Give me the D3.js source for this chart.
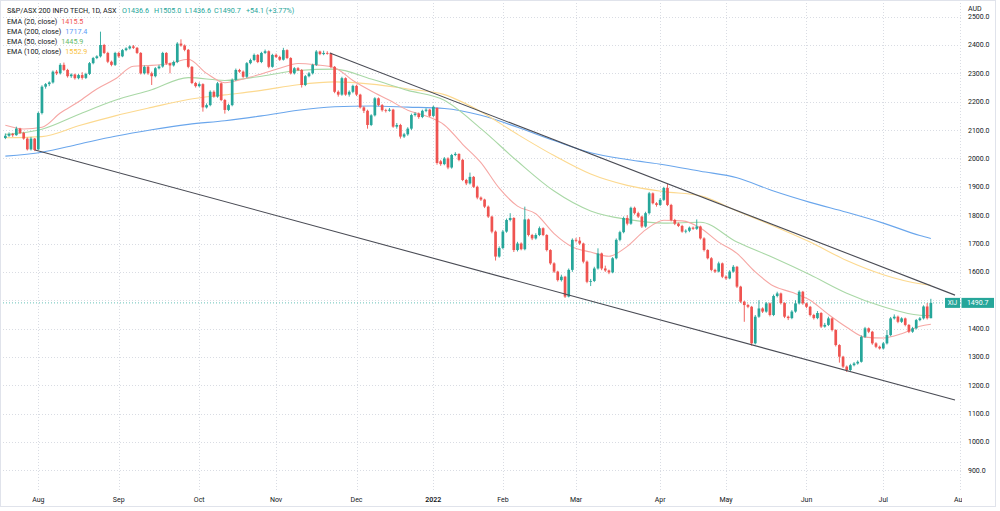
<!DOCTYPE html>
<html>
<head>
<meta charset="utf-8">
<script src="https://cdn.jsdelivr.net/npm/d3@7/dist/d3.min.js"></script>
<style>
html,body{margin:0;padding:0;background:#fff;}
svg{display:block;font-family:Roboto,"Liberation Sans",sans-serif;}
</style>
</head>
<body>
<div id="chart"></div>
<script>
// daily bars, 20 Jul 2021 .. 20 Jul 2022 (bar index = trading day)
const opens = [
2072,2080,2086,2082,2105,2090,2070,2032,2070,2032,
2160,2253,2262,2268,2306,2300,2330,2312,2290,2296,
2283,2294,2284,2298,2336,2354,2360,2400,2372,2341,
2330,2372,2360,2382,2388,2395,2390,2372,2300,2323,
2300,2290,2318,2324,2372,2335,2328,2340,2405,2398,
2383,2323,2266,2255,2262,2180,2188,2235,2218,2265,
2206,2171,2188,2277,2312,2306,2288,2336,2347,2365,
2340,2372,2378,2323,2365,2358,2348,2382,2354,2300,
2318,2312,2259,2290,2300,2330,2377,2368,2372,2370,
2323,2235,2225,2283,2225,2235,2256,2225,2180,2168,
2118,2152,2212,2188,2170,2168,2172,2112,2118,2077,
2085,2105,2153,2158,2146,2168,2172,2150,2178,1990,
1980,2000,1968,2012,2016,1995,1924,1912,1935,1900,
1862,1855,1830,1795,1742,1654,1684,1742,1783,1790,
1677,1700,1680,1785,1730,1718,1730,1754,1730,1677,
1630,1601,1571,1583,1513,1607,1713,1710,1700,1636,
1565,1568,1612,1665,1612,1605,1598,1648,1713,1740,
1790,1770,1826,1807,1795,1760,1807,1877,1842,1836,
1854,1896,1836,1783,1770,1762,1742,1745,1756,1752,
1760,1718,1677,1648,1607,1601,1630,1583,1577,1601,
1618,1548,1495,1483,1477,1348,1442,1471,1460,1489,
1448,1515,1524,1490,1442,1437,1460,1489,1530,1489,
1477,1448,1437,1455,1407,1413,1436,1395,1342,1301,
1266,1254,1271,1277,1283,1371,1401,1389,1348,1336,
1330,1348,1377,1436,1442,1424,1436,1413,1389,1401,
1430,1436,1478,1436.6
];
const highs = [
2088,2092,2090,2112,2108,2094,2074,2076,2072,2165,
2258,2266,2272,2310,2312,2336,2338,2316,2300,2299,
2298,2304,2302,2340,2358,2364,2447,2404,2376,2345,
2376,2376,2386,2392,2399,2400,2393,2375,2328,2326,
2306,2322,2330,2376,2375,2338,2345,2410,2420,2402,
2386,2326,2270,2268,2265,2194,2240,2240,2270,2268,
2210,2193,2282,2317,2316,2310,2340,2352,2370,2368,
2376,2384,2381,2369,2370,2362,2390,2385,2357,2322,
2322,2315,2294,2305,2334,2382,2380,2380,2378,2373,
2326,2240,2288,2286,2240,2260,2260,2228,2184,2172,
2156,2216,2215,2192,2175,2178,2175,2125,2122,2090,
2110,2158,2163,2162,2172,2177,2175,2186,2180,1995,
2005,2004,2016,2022,2018,1998,1928,1950,1938,1904,
1866,1858,1834,1798,1746,1690,1748,1788,1807,1793,
1706,1704,1830,1788,1734,1736,1760,1757,1733,1680,
1634,1604,1590,1586,1612,1718,1720,1723,1703,1640,
1575,1618,1683,1668,1622,1608,1652,1718,1745,1795,
1800,1830,1830,1812,1798,1812,1882,1880,1846,1860,
1900,1910,1840,1787,1774,1766,1750,1760,1760,1785,
1763,1722,1680,1652,1611,1636,1633,1588,1606,1624,
1621,1551,1498,1487,1480,1448,1500,1475,1494,1492,
1520,1530,1527,1493,1446,1465,1500,1535,1533,1492,
1480,1452,1462,1458,1420,1442,1439,1398,1345,1304,
1270,1276,1282,1288,1376,1406,1404,1392,1352,1340,
1353,1395,1441,1450,1446,1440,1439,1416,1406,1434,
1441,1482,1490,1505.0
];
const lows = [
2068,2076,2076,2080,2086,2066,2028,2028,2026,2030,
2155,2246,2255,2264,2294,2296,2308,2285,2284,2278,
2279,2278,2280,2294,2332,2350,2356,2368,2336,2325,
2326,2355,2357,2378,2384,2386,2368,2296,2296,2295,
2259,2286,2314,2320,2330,2300,2324,2336,2394,2378,
2318,2262,2250,2251,2165,2176,2184,2214,2214,2202,
2158,2167,2184,2273,2302,2284,2284,2332,2343,2336,
2336,2368,2318,2320,2354,2344,2345,2350,2296,2296,
2308,2250,2255,2286,2296,2326,2364,2364,2366,2318,
2230,2218,2221,2221,2218,2230,2220,2176,2160,2105,
2114,2148,2184,2165,2162,2165,2108,2105,2070,2072,
2080,2100,2148,2140,2142,2163,2146,2146,1978,1974,
1976,1962,1964,2008,1990,1920,1906,1908,1896,1856,
1850,1825,1790,1736,1640,1650,1680,1738,1778,1670,
1672,1676,1676,1725,1712,1714,1726,1726,1672,1625,
1596,1566,1566,1508,1510,1600,1704,1695,1630,1560,
1550,1564,1608,1606,1600,1592,1595,1644,1708,1736,
1764,1766,1802,1790,1755,1756,1802,1838,1830,1832,
1850,1832,1778,1765,1758,1738,1736,1740,1748,1748,
1714,1672,1644,1602,1596,1598,1578,1572,1574,1597,
1543,1490,1424,1472,1340,1344,1438,1455,1456,1443,
1444,1510,1485,1437,1430,1433,1456,1485,1484,1472,
1443,1432,1433,1402,1403,1409,1390,1337,1280,1261,
1247,1250,1267,1273,1280,1367,1384,1343,1331,1326,
1326,1344,1373,1432,1419,1420,1408,1384,1385,1397,
1426,1432,1432,1436.6
];
const closes = [
2080,2086,2082,2105,2090,2070,2032,2070,2030,2160,
2253,2262,2268,2306,2300,2330,2312,2290,2296,2283,
2294,2284,2298,2336,2354,2360,2400,2372,2341,2330,
2372,2360,2382,2388,2395,2390,2372,2300,2323,2300,
2290,2318,2324,2372,2335,2328,2340,2405,2398,2383,
2323,2266,2255,2262,2180,2188,2235,2218,2265,2206,
2171,2188,2277,2312,2306,2288,2336,2347,2365,2340,
2372,2378,2323,2365,2358,2348,2382,2354,2300,2318,
2312,2259,2290,2300,2330,2377,2368,2372,2370,2323,
2235,2225,2283,2225,2235,2256,2225,2180,2168,2118,
2152,2212,2188,2170,2168,2172,2112,2118,2077,2085,
2105,2153,2158,2146,2168,2172,2150,2182,1984,1980,
2000,1968,2012,2016,1995,1924,1912,1935,1900,1862,
1855,1830,1795,1742,1654,1684,1742,1783,1790,1677,
1700,1680,1785,1730,1718,1730,1754,1730,1677,1630,
1601,1571,1583,1513,1607,1713,1710,1700,1636,1565,
1568,1612,1665,1612,1605,1598,1648,1713,1740,1790,
1770,1826,1807,1795,1760,1807,1877,1842,1836,1854,
1896,1836,1783,1770,1762,1742,1745,1756,1752,1760,
1718,1677,1648,1607,1601,1630,1583,1577,1601,1618,
1548,1495,1483,1477,1348,1442,1471,1460,1489,1448,
1515,1524,1490,1442,1437,1460,1489,1530,1489,1477,
1448,1437,1455,1407,1413,1436,1395,1342,1301,1266,
1254,1271,1277,1283,1371,1401,1389,1348,1336,1330,
1348,1377,1436,1442,1424,1436,1413,1389,1401,1430,
1436,1478,1436.6,1490.7
];

// moving averages at these bars
const slowBars = [0,10,20,30,40,50,60,70,80,90,100,110,120,130,140,150,160,170,180,190,200,210,220,230,240,250,253];
const ema200 = [2008,2022,2050,2078,2101,2120,2133,2150,2170,2182,2185,2181,2176,2152,2110,2063,2020,1996,1978,1955,1932,1885,1845,1810,1772,1728,1717.4];
const ema100 = [2073,2077,2115,2150,2180,2208,2224,2240,2260,2270,2262,2245,2225,2165,2085,2010,1945,1905,1883,1868,1815,1762,1705,1640,1590,1558,1552.9];
const ema50  = [2085,2103,2155,2205,2242,2285,2275,2290,2310,2315,2280,2240,2205,2105,1990,1885,1815,1785,1772,1775,1705,1650,1590,1525,1477,1447,1445.9];
const fastBars = [0,5,10,15,20,25,30,35,40,45,50,55,60,65,70,75,80,85,90,95,100,105,110,115,120,125,130,135,140,145,150,155,160,165,170,175,180,185,190,195,200,205,210,215,220,225,230,235,240,245,250,253];
const ema20 = [2117,2104,2110,2160,2200,2245,2280,2325,2328,2335,2350,2300,2267,2280,2298,2318,2335,2330,2320,2275,2238,2205,2170,2150,2118,2050,1985,1895,1832,1805,1735,1688,1670,1655,1690,1748,1782,1780,1755,1705,1665,1600,1550,1528,1500,1450,1405,1370,1367,1382,1408,1415.5];

// drawn trend lines: [bar, price] end points
const upperTrend = [[88.7, 2372], [259.6, 1518]];
const lowerTrend = [[8.1, 2030], [259.6, 1148]];

const priceTicks = [900,1000,1100,1200,1300,1400,1500,1600,1700,1800,1900,2000,2100,2200,2300,2400,2500];
const monthBars = [9,31,53,74,96,117,136,156,179,197,219,240,261];
const monthNames = ['Aug','Sep','Oct','Nov','Dec','2022','Feb','Mar','Apr','May','Jun','Jul','Aug'];

const lastPrice = 1490.7;
const title = 'S&P/ASX 200 INFO TECH, 1D, ASX';
const ohlcText = ['O1436.6','H1505.0','L1436.6','C1490.7','+54.1 (+3.77%)'];
const emaNames = ['EMA (20, close)','EMA (200, close)','EMA (50, close)','EMA (100, close)'];
const emaLast = ['1415.5','1717.4','1445.9','1552.9'];

const UP = '#26a69a', DOWN = '#ef5350';
const W = 1000, H = 511;
const paneR = 961, paneB = 490;

const svg = d3.select('#chart').append('svg')
	.attr('width', W)
	.attr('height', H);

const x = d3.scaleLinear().domain([9, 240]).range([38.3, 883.3]);
const y = d3.scaleLinear().domain([900, 2400]).range([470.4, 45]);

const defs = svg.append('defs');
defs.append('clipPath').attr('id','pane')
	.append('rect').attr('x',0).attr('y',0).attr('width',paneR).attr('height',paneB);
defs.append('clipPath').attr('id','taxis')
	.append('rect').attr('x',0).attr('y',paneB).attr('width',962).attr('height',H-paneB);

const plot = svg.append('g').attr('clip-path','url(#pane)');

// grid
plot.selectAll('.hgrid')
	.data(priceTicks)
	.enter().append('line')
	.attr('class','hgrid')
	.attr('x1',0).attr('x2',paneR)
	.attr('y1',d=>Math.round(y(d))+0.5).attr('y2',d=>Math.round(y(d))+0.5)
	.attr('stroke','#d9dce3').attr('stroke-dasharray','1,2');

plot.selectAll('.vgrid')
	.data(monthBars)
	.enter().append('line')
	.attr('class','vgrid')
	.attr('x1',d=>Math.round(x(d))+0.5).attr('x2',d=>Math.round(x(d))+0.5)
	.attr('y1',0).attr('y2',paneB)
	.attr('stroke','#d9dce3').attr('stroke-dasharray','1,2');

// last price line
plot.append('line')
	.attr('x1',0).attr('x2',paneR)
	.attr('y1',y(lastPrice)).attr('y2',y(lastPrice))
	.attr('stroke',UP).attr('stroke-opacity',0.7).attr('stroke-dasharray','1,2');

// moving averages
const line = d3.line().x(d=>x(d[0])).y(d=>y(d[1])).curve(d3.curveMonotoneX);
const emaSeries = [
	{bars: slowBars, vals: ema200, color: '#6aa6ec'},
	{bars: slowBars, vals: ema100, color: '#fcd98f'},
	{bars: slowBars, vals: ema50, color: '#a9d8a6'},
	{bars: fastBars, vals: ema20, color: '#f6a7a4'}
];
plot.selectAll('.ema')
	.data(emaSeries)
	.enter().append('path')
	.attr('class','ema')
	.attr('fill','none')
	.attr('stroke',d=>d.color)
	.attr('stroke-width',1.1)
	.attr('d',d=>line(d.bars.map((b,k)=>[b,d.vals[k]])));

// candles
const bars = closes.map((c,i)=>({i:i, o:opens[i], h:highs[i], l:lows[i], c:c}));
const candles = plot.selectAll('.candle')
	.data(bars)
	.enter().append('g')
	.attr('class','candle');

candles.append('line')
	.attr('x1',d=>x(d.i)).attr('x2',d=>x(d.i))
	.attr('y1',d=>y(d.h)).attr('y2',d=>y(d.l))
	.attr('stroke',d=>d.c>=d.o ? UP : DOWN)
	.attr('stroke-width',0.9);

candles.append('rect')
	.attr('x',d=>x(d.i)-1.35)
	.attr('width',2.7)
	.attr('y',d=>y(Math.max(d.o,d.c)))
	.attr('height',d=>Math.max(0.8, Math.abs(y(d.o)-y(d.c))))
	.attr('fill',d=>d.c>=d.o ? UP : DOWN);

// trend lines
plot.selectAll('.trend')
	.data([upperTrend, lowerTrend])
	.enter().append('line')
	.attr('class','trend')
	.attr('x1',d=>x(d[0][0])).attr('y1',d=>y(d[0][1]))
	.attr('x2',d=>x(d[1][0])).attr('y2',d=>y(d[1][1]))
	.attr('stroke','#4a4c55').attr('stroke-width',1.1);

// symbol tag
plot.append('rect').attr('x',945).attr('y',y(lastPrice)-5).attr('width',15).attr('height',10).attr('fill',UP);
plot.append('text').attr('x',952.5).attr('y',y(lastPrice)).attr('dy','0.35em')
	.attr('text-anchor','middle').attr('font-size',6.5).attr('fill','#fff').text('XIJ');

// price axis (the 1500 label sits under the last-price tag)
svg.selectAll('.ptick')
	.data(priceTicks.filter(d=>Math.abs(y(d)-y(lastPrice))>9))
	.enter().append('text')
	.attr('class','ptick')
	.attr('x',968).attr('y',d=>y(d)).attr('dy','0.35em')
	.attr('font-size',7).attr('fill','#131722')
	.text(d=>d.toFixed(1));

svg.append('rect').attr('x',paneR+1).attr('y',0).attr('width',W-paneR-2).attr('height',14).attr('fill','#fff');
svg.append('text').attr('x',968).attr('y',9).attr('dy','0.35em')
	.attr('font-size',7).attr('fill','#131722').text('AUD');

svg.append('rect').attr('x',961.5).attr('y',y(lastPrice)-5).attr('width',32.5).attr('height',10).attr('fill',UP);
svg.append('text').attr('x',977.7).attr('y',y(lastPrice)).attr('dy','0.35em')
	.attr('text-anchor','middle').attr('font-size',7).attr('fill','#fff').text(lastPrice.toFixed(1));

// time axis
svg.append('g').attr('clip-path','url(#taxis)')
	.selectAll('.mtick')
	.data(monthBars)
	.enter().append('text')
	.attr('class','mtick')
	.attr('x',d=>x(d)).attr('y',500).attr('dy','0.35em')
	.attr('text-anchor','middle').attr('font-size',7).attr('fill','#131722')
	.attr('font-weight',(d,k)=>monthNames[k]==='2022' ? 600 : 400)
	.text((d,k)=>monthNames[k]);

// legend
const legend = svg.append('g').attr('font-size',7.2);
legend.append('text').attr('x',7).attr('y',10).attr('dy','0.35em').attr('fill','#131722').text(title);
const ohlcX = [122,154,185,214,246];
legend.selectAll('.ohlc')
	.data(ohlcText)
	.enter().append('text')
	.attr('class','ohlc')
	.attr('x',(d,k)=>ohlcX[k]).attr('y',10).attr('dy','0.35em')
	.attr('fill',UP).text(d=>d);

const emaColors = ['#ef5350','#5b9cf6','#66bb6a','#f9c23c'];
const rows = legend.selectAll('.emarow')
	.data(emaNames)
	.enter().append('text')
	.attr('class','emarow')
	.attr('x',7).attr('y',(d,k)=>21.7+k*10).attr('dy','0.35em')
	.attr('fill','#131722');
rows.append('tspan').text(d=>d);
rows.append('tspan').attr('dx',4).attr('fill',(d,k)=>emaColors[k]).text((d,k)=>emaLast[k]);

// outer border
svg.append('rect').attr('x',0.5).attr('y',0.5).attr('width',995).attr('height',506)
	.attr('fill','none').attr('stroke','#e0e3eb');
</script>
</body>
</html>
